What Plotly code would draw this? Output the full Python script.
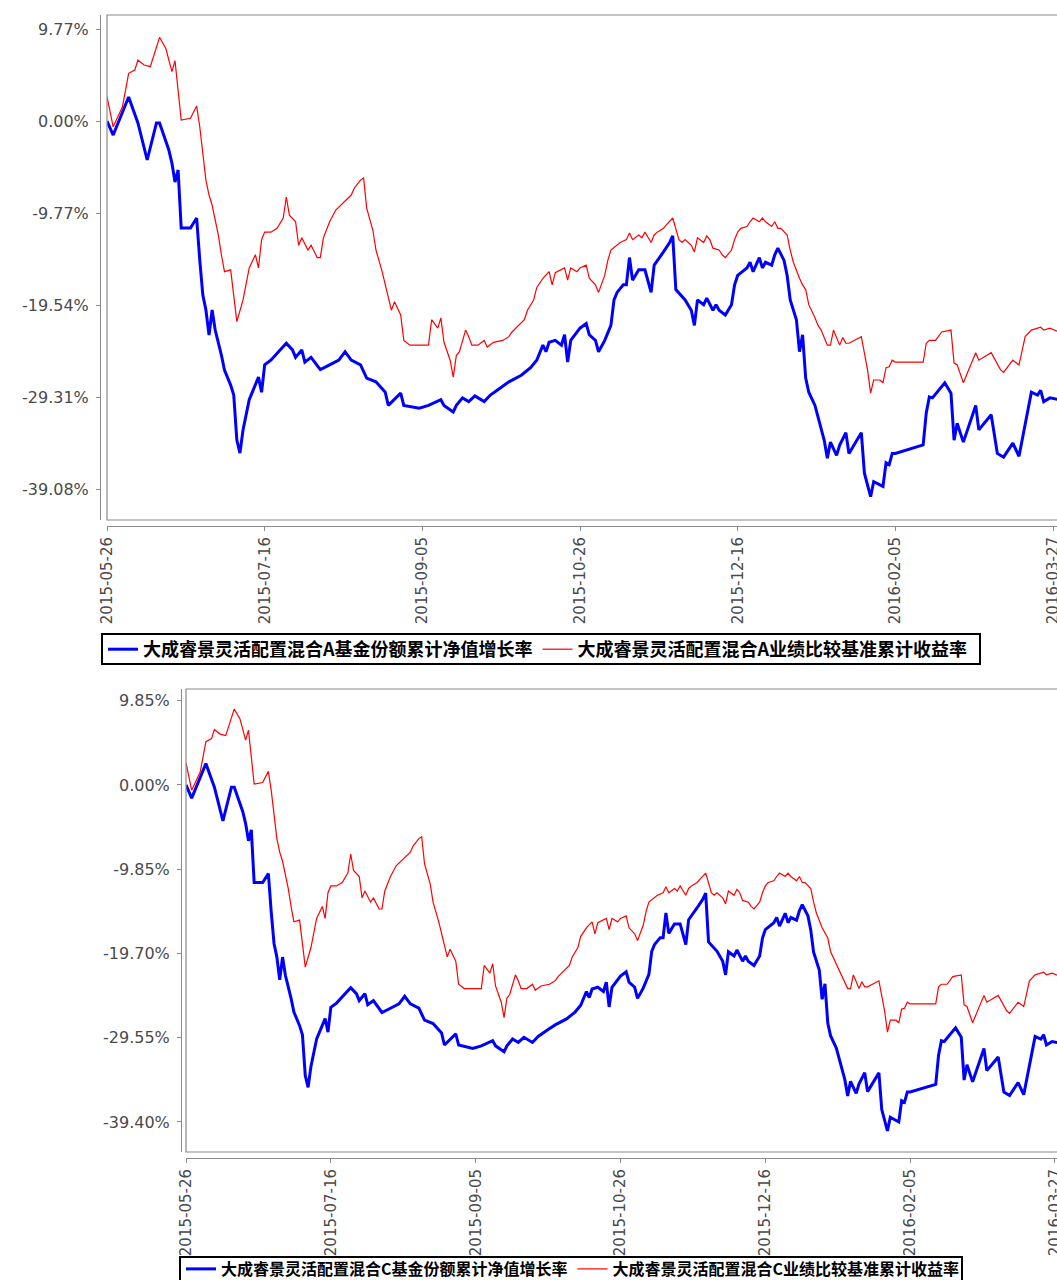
import plotly.graph_objects as go

# ---------------- data ----------------
nav_dates = [
 "2015-05-26","2015-05-28","2015-06-02","2015-06-05","2015-06-08","2015-06-11","2015-06-12","2015-06-15","2015-06-16","2015-06-17",
 "2015-06-18","2015-06-19","2015-06-22","2015-06-24","2015-06-25","2015-06-26","2015-06-27","2015-06-28","2015-06-29","2015-06-30",
 "2015-07-02","2015-07-03","2015-07-05","2015-07-06","2015-07-07","2015-07-08","2015-07-09","2015-07-10","2015-07-11","2015-07-13",
 "2015-07-14","2015-07-15","2015-07-16","2015-07-18","2015-07-21","2015-07-23","2015-07-25","2015-07-26","2015-07-28","2015-07-29",
 "2015-07-31","2015-08-03","2015-08-06","2015-08-09","2015-08-11","2015-08-13","2015-08-16","2015-08-18","2015-08-21","2015-08-24",
 "2015-08-25","2015-08-27","2015-08-29","2015-08-30","2015-09-04","2015-09-07","2015-09-11","2015-09-12","2015-09-15","2015-09-16",
 "2015-09-18","2015-09-20","2015-09-22","2015-09-25","2015-09-27","2015-09-30","2015-10-03","2015-10-07","2015-10-10","2015-10-12",
 "2015-10-14","2015-10-15","2015-10-16","2015-10-18","2015-10-20","2015-10-21","2015-10-22","2015-10-23","2015-10-26","2015-10-28",
 "2015-10-29","2015-10-31","2015-11-01","2015-11-03","2015-11-05","2015-11-06","2015-11-07","2015-11-09","2015-11-10","2015-11-11",
 "2015-11-12","2015-11-14","2015-11-16","2015-11-18","2015-11-19","2015-11-22","2015-11-24","2015-11-25","2015-11-26","2015-11-29",
 "2015-12-01","2015-12-02","2015-12-03","2015-12-05","2015-12-06","2015-12-08","2015-12-09","2015-12-10","2015-12-12","2015-12-14",
 "2015-12-15","2015-12-16","2015-12-19","2015-12-20","2015-12-21","2015-12-23","2015-12-24","2015-12-25","2015-12-27","2015-12-28",
 "2015-12-29","2015-12-31","2016-01-01","2016-01-02","2016-01-04","2016-01-05","2016-01-06","2016-01-07","2016-01-08","2016-01-10",
 "2016-01-12","2016-01-13","2016-01-14","2016-01-15","2016-01-17","2016-01-18","2016-01-20","2016-01-21","2016-01-25","2016-01-26",
 "2016-01-28","2016-01-29","2016-02-01","2016-02-02","2016-02-03","2016-02-04","2016-02-05","2016-02-14","2016-02-15","2016-02-16",
 "2016-02-17","2016-02-21","2016-02-23","2016-02-24","2016-02-25","2016-02-27","2016-03-02","2016-03-03","2016-03-07","2016-03-09",
 "2016-03-11","2016-03-14","2016-03-16","2016-03-19","2016-03-20","2016-03-22","2016-03-23","2016-03-24","2016-03-26","2016-03-29",
]

nav_a = [
 0.00,-1.49,2.55,-0.21,-4.14,-0.21,-0.21,-3.08,-4.46,-6.48,
 -5.20,-11.36,-11.36,-10.30,-14.76,-18.48,-20.07,-22.73,-20.07,-22.20,
 -24.85,-26.44,-28.04,-29.10,-33.88,-35.26,-32.80,-31.20,-29.60,-28.00,
 -27.20,-28.80,-25.90,-25.40,-24.30,-23.60,-24.30,-25.10,-24.30,-25.60,
 -25.10,-26.40,-25.90,-25.40,-24.50,-25.40,-25.90,-27.30,-27.70,-28.80,
 -30.20,-29.60,-28.90,-30.20,-30.50,-30.20,-29.60,-30.20,-30.90,-30.20,
 -29.40,-29.80,-29.20,-29.80,-29.10,-28.40,-27.70,-27.00,-26.20,-25.40,
 -23.80,-24.50,-23.50,-23.30,-23.80,-22.70,-25.60,-23.30,-22.00,-21.50,
 -22.70,-23.30,-24.50,-23.30,-21.70,-19.00,-18.20,-17.40,-17.40,-14.50,
 -16.90,-15.80,-15.80,-18.20,-15.30,-13.90,-12.90,-12.20,-17.90,-19.00,
 -20.10,-21.70,-19.00,-19.50,-18.80,-20.10,-19.50,-20.10,-20.60,-19.50,
 -17.40,-16.40,-15.60,-15.00,-16.00,-14.50,-15.60,-15.00,-15.30,-14.20,
 -13.50,-14.80,-16.40,-19.00,-21.10,-24.50,-22.70,-27.30,-28.80,-30.20,
 -32.80,-33.90,-35.80,-34.10,-35.50,-34.40,-33.10,-35.30,-33.10,-37.40,
 -39.90,-38.30,-38.80,-36.30,-36.50,-35.30,-35.30,-34.40,-31.00,-29.30,
 -29.40,-27.80,-28.90,-33.90,-32.10,-34.10,-30.20,-32.80,-31.20,-35.30,
 -35.70,-34.20,-35.60,-30.40,-28.80,-29.10,-28.60,-29.80,-29.40,-29.60,
]

nav_c = [
 0.00,-1.53,2.50,-0.26,-4.19,-0.26,-0.26,-3.13,-4.51,-6.53,
 -5.25,-11.41,-11.41,-10.35,-14.81,-18.53,-20.12,-22.78,-20.12,-22.25,
 -24.95,-26.54,-28.14,-29.20,-33.98,-35.36,-32.90,-31.30,-29.70,-28.10,
 -27.30,-28.90,-26.00,-25.50,-24.40,-23.70,-24.40,-25.20,-24.40,-25.70,
 -25.20,-26.60,-26.10,-25.60,-24.70,-25.60,-26.10,-27.50,-27.90,-29.00,
 -30.40,-29.80,-29.10,-30.40,-30.80,-30.50,-29.90,-30.50,-31.20,-30.50,
 -29.70,-30.10,-29.50,-30.10,-29.40,-28.70,-28.05,-27.35,-26.55,-25.75,
 -24.15,-24.85,-23.85,-23.65,-24.15,-23.05,-25.95,-23.65,-22.35,-21.85,
 -23.05,-23.65,-24.95,-23.75,-22.15,-19.45,-18.65,-17.85,-17.85,-14.95,
 -17.35,-16.25,-16.25,-18.65,-15.75,-14.35,-13.35,-12.65,-18.35,-19.45,
 -20.60,-22.20,-19.50,-20.00,-19.30,-20.60,-20.00,-20.60,-21.10,-20.00,
 -17.90,-16.90,-16.10,-15.50,-16.50,-15.00,-16.10,-15.50,-15.80,-14.70,
 -14.00,-15.30,-16.95,-19.55,-21.65,-25.05,-23.25,-27.85,-29.35,-30.75,
 -33.35,-34.45,-36.35,-34.65,-36.05,-34.95,-33.65,-35.85,-33.65,-37.95,
 -40.45,-38.85,-39.40,-36.90,-37.10,-35.90,-35.90,-35.00,-31.60,-29.90,
 -30.00,-28.40,-29.50,-34.50,-32.70,-34.70,-30.80,-33.40,-31.80,-35.90,
 -36.30,-34.80,-36.20,-31.00,-29.40,-29.70,-29.20,-30.40,-30.00,-30.20,
]

bm_dates = [
 "2015-05-26","2015-05-28","2015-05-31","2015-06-02","2015-06-04","2015-06-05","2015-06-07","2015-06-09","2015-06-12","2015-06-14",
 "2015-06-16","2015-06-17","2015-06-19","2015-06-22","2015-06-24","2015-06-25","2015-06-27","2015-06-28","2015-06-29","2015-07-01",
 "2015-07-02","2015-07-03","2015-07-05","2015-07-06","2015-07-07","2015-07-09","2015-07-10","2015-07-11","2015-07-13","2015-07-14",
 "2015-07-15","2015-07-16","2015-07-18","2015-07-20","2015-07-22","2015-07-23","2015-07-24","2015-07-26","2015-07-27","2015-07-28",
 "2015-07-30","2015-07-31","2015-08-02","2015-08-03","2015-08-04","2015-08-06","2015-08-08","2015-08-09","2015-08-11","2015-08-13",
 "2015-08-14","2015-08-16","2015-08-17","2015-08-18","2015-08-20","2015-08-21","2015-08-23","2015-08-25","2015-08-26","2015-08-27",
 "2015-08-29","2015-08-30","2015-09-01","2015-09-07","2015-09-08","2015-09-10","2015-09-11","2015-09-12","2015-09-14","2015-09-15",
 "2015-09-16","2015-09-17","2015-09-19","2015-09-20","2015-09-21","2015-09-23","2015-09-25","2015-09-26","2015-09-28","2015-10-01",
 "2015-10-03","2015-10-04","2015-10-06","2015-10-08","2015-10-09","2015-10-11","2015-10-12","2015-10-14","2015-10-16","2015-10-17",
 "2015-10-18","2015-10-20","2015-10-21","2015-10-22","2015-10-23","2015-10-25","2015-10-26","2015-10-28","2015-10-29","2015-10-31",
 "2015-11-01","2015-11-03","2015-11-04","2015-11-05","2015-11-07","2015-11-08","2015-11-10","2015-11-11","2015-11-12","2015-11-14",
 "2015-11-15","2015-11-16","2015-11-18","2015-11-19","2015-11-20","2015-11-22","2015-11-23","2015-11-24","2015-11-25","2015-11-27",
 "2015-11-28","2015-11-29","2015-12-01","2015-12-02","2015-12-03","2015-12-05","2015-12-06","2015-12-07","2015-12-08","2015-12-10",
 "2015-12-11","2015-12-12","2015-12-14","2015-12-15","2015-12-16","2015-12-17","2015-12-19","2015-12-20","2015-12-21","2015-12-23",
 "2015-12-24","2015-12-25","2015-12-27","2015-12-28","2015-12-29","2015-12-30","2016-01-01","2016-01-02","2016-01-03","2016-01-05",
 "2016-01-06","2016-01-07","2016-01-08","2016-01-10","2016-01-11","2016-01-12","2016-01-14","2016-01-15","2016-01-16","2016-01-18",
 "2016-01-19","2016-01-20","2016-01-21","2016-01-25","2016-01-27","2016-01-28","2016-01-29","2016-01-31","2016-02-01","2016-02-02",
 "2016-02-03","2016-02-04","2016-02-05","2016-02-14","2016-02-15","2016-02-16","2016-02-18","2016-02-20","2016-02-23","2016-02-24",
 "2016-02-25","2016-02-27","2016-03-02","2016-03-03","2016-03-07","2016-03-10","2016-03-11","2016-03-14","2016-03-16","2016-03-18",
 "2016-03-20","2016-03-23","2016-03-24","2016-03-26","2016-03-29",
]

bm = [
 2.58,-0.61,1.52,5.07,5.42,6.48,5.95,5.77,8.89,7.72,
 5.24,6.40,0.11,0.29,1.59,-0.61,-6.27,-7.86,-8.92,-12.10,
 -14.20,-16.00,-15.80,-18.50,-21.30,-19.00,-17.40,-15.60,-14.20,-15.60,
 -12.60,-11.80,-11.80,-11.40,-10.30,-8.07,-10.00,-10.70,-13.20,-12.40,
 -13.70,-13.20,-14.50,-14.50,-12.40,-10.70,-9.45,-9.13,-8.39,-7.86,
 -7.12,-6.27,-6.05,-9.24,-11.60,-13.70,-16.00,-18.80,-20.10,-19.20,
 -20.60,-23.30,-23.80,-23.80,-21.10,-22.00,-20.90,-23.50,-25.40,-27.20,
 -24.90,-24.50,-22.20,-22.90,-23.80,-23.80,-23.30,-24.00,-23.50,-23.30,
 -22.90,-22.40,-21.70,-21.10,-20.10,-19.00,-17.70,-16.70,-16.00,-17.40,
 -16.10,-15.80,-15.60,-16.90,-15.60,-16.00,-15.60,-15.30,-16.70,-17.40,
 -18.20,-16.40,-14.80,-13.70,-13.20,-12.90,-12.60,-11.90,-12.60,-12.10,
 -12.40,-11.80,-12.90,-12.10,-11.80,-11.40,-11.00,-10.70,-10.30,-12.60,
 -12.90,-12.60,-13.20,-13.90,-12.40,-12.90,-12.20,-12.60,-13.50,-13.70,
 -14.20,-14.50,-13.70,-12.60,-11.80,-11.40,-11.20,-10.70,-10.30,-10.70,
 -10.30,-10.70,-11.20,-10.70,-11.40,-11.40,-12.10,-13.70,-15.00,-16.70,
 -17.40,-17.90,-19.50,-20.90,-21.70,-22.20,-23.80,-23.80,-22.20,-23.80,
 -23.00,-23.60,-23.60,-22.90,-26.40,-28.90,-27.50,-27.50,-27.80,-26.20,
 -26.10,-25.40,-25.60,-25.60,-23.60,-23.30,-23.30,-22.40,-22.20,-25.70,
 -25.90,-27.80,-24.60,-25.40,-24.60,-26.40,-26.70,-25.40,-25.90,-22.90,
 -22.20,-21.90,-22.20,-22.00,-22.40,
]

x_ticks = ["2015-05-26","2015-07-16","2015-09-05","2015-10-26","2015-12-16","2016-02-05","2016-03-27"]
y_ticks_a = [9.77, 0.00, -9.77, -19.54, -29.31, -39.08]
y_text_a = ["9.77%", "0.00%", "-9.77%", "-19.54%", "-29.31%", "-39.08%"]
y_ticks_c = [9.85, 0.00, -9.85, -19.70, -29.55, -39.40]
y_text_c = ["9.85%", "0.00%", "-9.85%", "-19.70%", "-29.55%", "-39.40%"]

name_nav_a = "大成睿景灵活配置混合A基金份额累计净值增长率"
name_bm_a = "大成睿景灵活配置混合A业绩比较基准累计收益率"
name_nav_c = "大成睿景灵活配置混合C基金份额累计净值增长率"
name_bm_c = "大成睿景灵活配置混合C业绩比较基准累计收益率"

# ---------------- figure ----------------
W, H = 1057, 1280
BLUE = "#0000ff"
RED = "#ff0000"
GRAY = "#8a8a8a"
TICKFONT_Y = dict(family="DejaVu Sans", size=16, color="#4a4a4a")
TICKFONT_X = dict(family="DejaVu Sans", size=15, color="#4a4a4a")

fig = go.Figure()
fig.add_trace(go.Scatter(x=nav_dates, y=nav_a, mode="lines", name=name_nav_a,
                         line=dict(color=BLUE, width=3), xaxis="x", yaxis="y", legend="legend"))
fig.add_trace(go.Scatter(x=bm_dates, y=bm, mode="lines", name=name_bm_a,
                         line=dict(color=RED, width=1.2), xaxis="x", yaxis="y", legend="legend"))
fig.add_trace(go.Scatter(x=nav_dates, y=nav_c, mode="lines", name=name_nav_c,
                         line=dict(color=BLUE, width=3), xaxis="x2", yaxis="y2", legend="legend2"))
fig.add_trace(go.Scatter(x=bm_dates, y=bm, mode="lines", name=name_bm_c,
                         line=dict(color=RED, width=1.2), xaxis="x2", yaxis="y2", legend="legend2"))

def px_x(p):
    return p / W

def px_y(p):
    return 1 - p / H

# panel geometry (pixels)
A = dict(left=107, top=15, bottom=520, yaxis_x=100, xaxis_y=526)
C = dict(left=186, top=689, bottom=1152, yaxis_x=181, xaxis_y=1158)

xcommon = dict(type="date", tickvals=x_ticks, tickformat="%Y-%m-%d", tickangle=-90,
               ticks="outside", ticklen=4, tickcolor=GRAY, showline=True, linecolor=GRAY,
               linewidth=1, showgrid=False, zeroline=False, tickfont=TICKFONT_X, anchor="free",
               ticklabeloverflow="allow")
ycommon = dict(ticks="outside", ticklen=4, tickcolor=GRAY, showline=True, linecolor=GRAY,
               linewidth=1, showgrid=False, zeroline=False, tickfont=TICKFONT_Y, anchor="free",
               ticklabelstandoff=4)

LEGFONT_A = dict(family="Noto Sans CJK SC", size=18, color="black", weight="bold")
LEGFONT_C = dict(family="Noto Sans CJK SC", size=16, color="black", weight="bold")

fig.update_layout(
    width=W, height=H,
    margin=dict(l=0, r=0, t=0, b=0, autoexpand=False),
    paper_bgcolor="white", plot_bgcolor="white",
    hovermode=False,
    xaxis=dict(xcommon, domain=[px_x(A["left"]), 1.0], position=px_y(A["xaxis_y"]),
               range=["2015-05-26", "2016-03-28 07:00"]),
    yaxis=dict(ycommon, domain=[px_y(A["bottom"]), px_y(A["top"])], position=px_x(A["yaxis_x"]),
               range=[-42.37, 11.26], tickvals=y_ticks_a, ticktext=y_text_a),
    xaxis2=dict(xcommon, domain=[px_x(C["left"]), 1.0], position=px_y(C["xaxis_y"]),
                range=["2015-05-26", "2016-03-27 17:00"]),
    yaxis2=dict(ycommon, domain=[px_y(C["bottom"]), px_y(C["top"])], position=px_x(C["yaxis_x"]),
                range=[-42.91, 11.22], tickvals=y_ticks_c, ticktext=y_text_c),
    legend=dict(x=px_x(103), y=px_y(631), xanchor="left", yanchor="top", orientation="h",
                borderwidth=0, bgcolor="rgba(0,0,0,0)", itemwidth=30, font=LEGFONT_A),
    legend2=dict(x=px_x(181), y=px_y(1252), xanchor="left", yanchor="top", orientation="h",
                 borderwidth=0, bgcolor="rgba(0,0,0,0)", itemwidth=30, font=LEGFONT_C),
)

shapes = []
# plot frames (top, left, bottom edges; right edge lies beyond the page)
for P in (A, C):
    x0, x1 = px_x(P["left"]), 1.02
    y0, y1 = px_y(P["bottom"]), px_y(P["top"])
    shapes.append(dict(type="rect", xref="paper", yref="paper", x0=x0, x1=x1, y0=y0, y1=y1,
                       line=dict(color=GRAY, width=1.2), fillcolor="rgba(0,0,0,0)", layer="above"))
# legend boxes
for (bx0, by0, bx1, by1) in ((102, 634, 980, 664), (180, 1257, 962, 1292)):
    shapes.append(dict(type="rect", xref="paper", yref="paper",
                       x0=px_x(bx0), x1=px_x(bx1), y0=px_y(by1), y1=px_y(by0),
                       line=dict(color="black", width=2), fillcolor="white", layer="above"))
fig.update_layout(shapes=shapes)

fig.write_html("out.html", config={"displayModeBar": False},
               post_script="document.body.style.margin='0';document.body.style.overflow='hidden';")
